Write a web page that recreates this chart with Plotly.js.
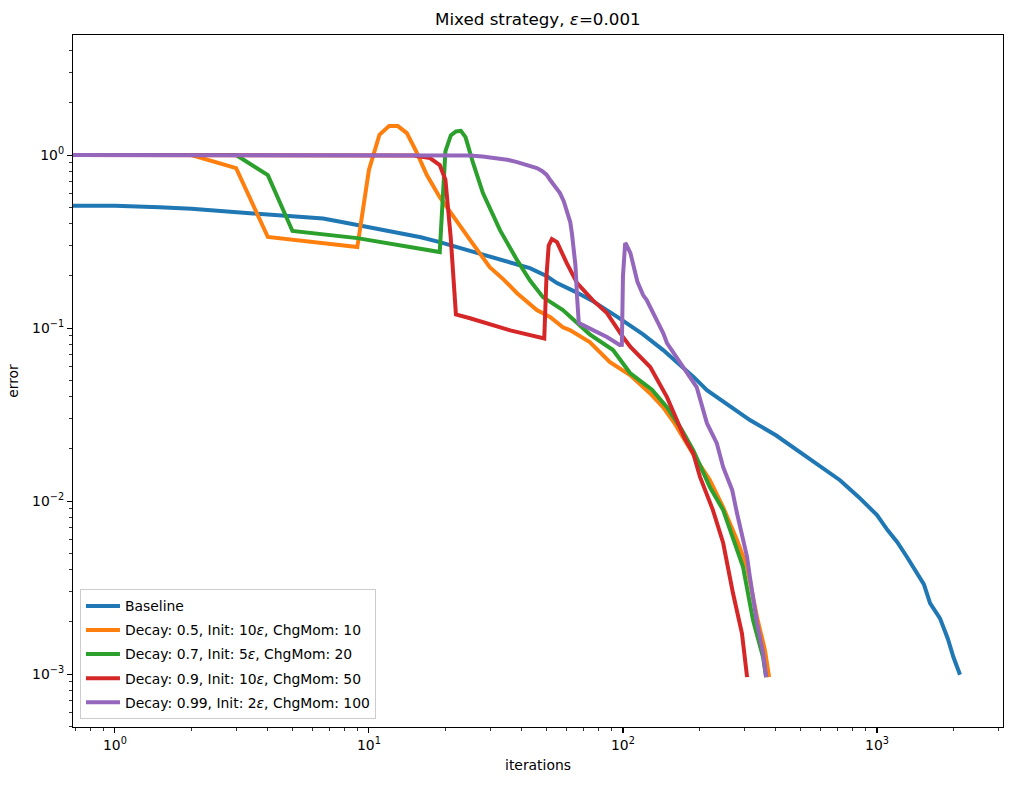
<!DOCTYPE html>
<html>
<head>
<meta charset="utf-8">
<script src="https://cdn.plot.ly/plotly-3.0.1.min.js"></script>
<style>html,body{margin:0;padding:0;background:#fff;}#chart{width:1012px;height:785px;}</style>
</head>
<body>
<div id="chart"></div>
<script>
// iteration 0 is drawn at 0.5 (matplotlib clips it to the left edge)
const baselineX = [0.5, 1, 1.5, 2, 3.5, 5, 6.6, 8, 10, 13.6, 16, 19, 25, 32, 43, 50, 55, 65, 75, 95, 120, 144, 167, 190, 214, 260, 316, 400, 497, 600, 715, 850, 1000, 1100, 1200, 1312, 1437, 1530, 1617, 1770, 1900, 2000, 2122];
const baselineY = [0.51, 0.51, 0.5, 0.49, 0.46, 0.445, 0.43, 0.408, 0.383, 0.354, 0.335, 0.314, 0.28, 0.254, 0.222, 0.2, 0.182, 0.162, 0.145, 0.116, 0.092, 0.0746, 0.062, 0.052, 0.0438, 0.036, 0.0294, 0.024, 0.0192, 0.0158, 0.0132, 0.0105, 0.0083, 0.0068, 0.0058, 0.00475, 0.00384, 0.0033, 0.00257, 0.0021, 0.0016, 0.00125, 0.00099];

const orangeX = [0.5, 1, 2, 3, 4, 9, 10, 11, 12, 13, 14.1, 15.4, 16.9, 19, 22.2, 25, 29.9, 34, 38.3, 45.8, 51.6, 58, 61.8, 68, 74, 88.9, 106.6, 127.7, 143.7, 160, 172, 195, 220, 248, 281, 308, 337, 362, 376];
const orangeY = [1, 1, 1, 0.84, 0.336, 0.294, 0.82, 1.31, 1.47, 1.47, 1.34, 1.04, 0.766, 0.571, 0.41, 0.323, 0.225, 0.19, 0.159, 0.127, 0.116, 0.101, 0.0974, 0.09, 0.083, 0.0636, 0.0535, 0.042, 0.0349, 0.028, 0.0234, 0.0173, 0.0132, 0.0092, 0.00595, 0.00415, 0.00213, 0.00138, 0.00096];

const greenX = [0.5, 1, 2, 3, 4, 5, 9, 13.2, 19, 20, 21, 22, 23, 24, 25.7, 28.1, 32.8, 38.3, 43, 48.4, 58, 74, 91.4, 106.6, 130, 149, 170, 189, 220, 248, 281, 297, 325, 356, 366];
const greenY = [1, 1, 1, 1, 0.766, 0.364, 0.331, 0.302, 0.275, 1.05, 1.3, 1.37, 1.38, 1.27, 0.9, 0.603, 0.368, 0.247, 0.189, 0.151, 0.127, 0.092, 0.0746, 0.055, 0.044, 0.0349, 0.026, 0.0197, 0.012, 0.00887, 0.0052, 0.00415, 0.00205, 0.00125, 0.00096];

const redX = [0.5, 1, 10, 15, 17.4, 19, 20, 21, 22, 25, 36, 48, 49, 50, 51, 52.5, 55, 60, 66, 76, 86.5, 100, 107, 128, 149, 163, 175, 189, 201, 226, 248, 271, 294, 308];
const redY = [1, 1, 1, 0.995, 0.96, 0.875, 0.72, 0.33, 0.12, 0.114, 0.097, 0.0875, 0.087, 0.2, 0.3, 0.327, 0.314, 0.238, 0.182, 0.145, 0.122, 0.0887, 0.0777, 0.0595, 0.0399, 0.0294, 0.023, 0.0189, 0.0138, 0.00887, 0.00572, 0.00294, 0.00172, 0.00096];

const purpleX = [0.5, 1, 10, 20, 25, 28, 31.9, 35, 38.3, 42, 45.8, 48, 50, 51.6, 54, 56.5, 58.5, 60.7, 62, 63, 64, 65, 66, 67, 69.6, 86.5, 97, 99, 100, 101, 102, 103, 107, 114, 120, 124, 136, 144, 149, 172, 195, 214, 234, 248, 269, 281, 308, 316, 337, 356, 366];
const purpleY = [1, 1, 1, 1, 0.995, 0.98, 0.96, 0.94, 0.911, 0.88, 0.841, 0.81, 0.77, 0.72, 0.66, 0.603, 0.54, 0.462, 0.41, 0.35, 0.29, 0.23, 0.15, 0.107, 0.104, 0.0887, 0.0798, 0.08, 0.2, 0.29, 0.31, 0.305, 0.271, 0.185, 0.155, 0.145, 0.111, 0.0935, 0.0819, 0.0595, 0.0456, 0.0282, 0.0216, 0.0157, 0.0116, 0.00853, 0.00475, 0.00364, 0.00197, 0.00132, 0.00096];

const seriesNames = ["Baseline", "Decay: 0.5, Init: 10<i>ε</i>, ChgMom: 10", "Decay: 0.7, Init: 5<i>ε</i>, ChgMom: 20", "Decay: 0.9, Init: 10<i>ε</i>, ChgMom: 50", "Decay: 0.99, Init: 2<i>ε</i>, ChgMom: 100"];
const colors = ["#1f77b4", "#ff7f0e", "#2ca02c", "#d62728", "#9467bd"];

const xTickVals = [1, 10, 100, 1000];
const xTickText = ["10<sup>0</sup>", "10<sup>1</sup>", "10<sup>2</sup>", "10<sup>3</sup>"];
const yTickVals = [0.001, 0.01, 0.1, 1];
const yTickText = ["10<sup>−3</sup>", "10<sup>−2</sup>", "10<sup>−1</sup>", "10<sup>0</sup>"];

function minorTicks(lo, hi) {
  const out = [];
  for (let e = lo; e <= hi; e++) for (let m = 2; m <= 9; m++) out.push(m * Math.pow(10, e));
  return out;
}

const xs = [baselineX, orangeX, greenX, redX, purpleX];
const ys = [baselineY, orangeY, greenY, redY, purpleY];
const traces = xs.map((x, i) => ({
  x: x, y: ys[i], type: 'scatter', mode: 'lines', name: seriesNames[i],
  legendgroup: 'g' + i,
  line: {color: colors[i], width: 4, shape: 'linear'}
}));

const font = {family: 'DejaVu Sans, sans-serif', size: 13.9, color: '#000'};
const axisCommon = {
  type: 'log', showgrid: false, zeroline: false, showline: true, mirror: true,
  linecolor: '#000', linewidth: 1.1, ticks: 'outside', ticklen: 5, tickwidth: 1.1, tickcolor: '#000',
  tickmode: 'array', tickfont: font
};

const layout = {
  width: 1012, height: 785,
  margin: {l: 73, r: 9, t: 35, b: 58},
  paper_bgcolor: '#fff', plot_bgcolor: '#fff',
  font: font,
  title: {text: 'Mixed strategy, <i>ε</i>=0.001', font: {family: 'DejaVu Sans, sans-serif', size: 16.7, color: '#000'}, x: 0.5315, xanchor: 'center', y: 0.975, yanchor: 'middle'},
  xaxis: Object.assign({}, axisCommon, {
    range: [Math.log10(0.684), Math.log10(3133)],
    tickvals: xTickVals, ticktext: xTickText,
    minor: {tickmode: 'array', tickvals: minorTicks(-1, 3), ticks: 'outside', ticklen: 3, tickwidth: 0.8, tickcolor: '#000', showgrid: false},
    title: {text: 'iterations', font: font, standoff: 8}
  }),
  yaxis: Object.assign({}, axisCommon, {
    range: [-3.306, 0.694],
    tickvals: yTickVals, ticktext: yTickText,
    minor: {tickmode: 'array', tickvals: minorTicks(-4, 0), ticks: 'outside', ticklen: 3, tickwidth: 0.8, tickcolor: '#000', showgrid: false},
    title: {text: 'error', font: font, standoff: 10}
  }),
  legend: {
    x: 0.0075, y: 0.011, xanchor: 'left', yanchor: 'bottom',
    bgcolor: 'rgba(255,255,255,0.8)', bordercolor: '#cccccc', borderwidth: 1,
    font: font, tracegroupgap: 3, itemwidth: 34
  },
  showlegend: true
};

Plotly.newPlot('chart', traces, layout, {displayModeBar: false, staticPlot: true});
</script>
</body>
</html>
